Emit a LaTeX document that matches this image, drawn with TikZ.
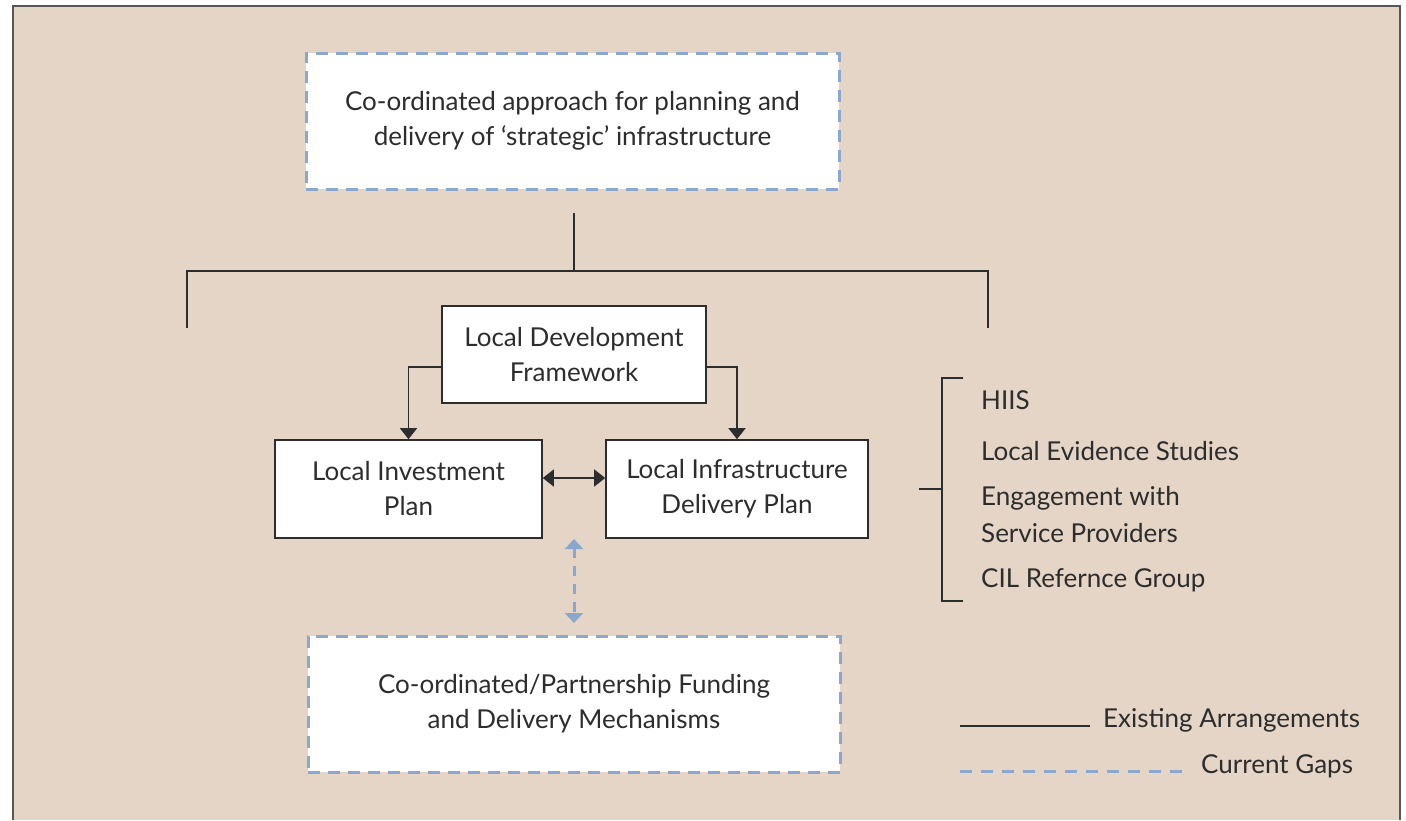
\documentclass[tikz,border=0pt]{standalone}
\usepackage{fontspec}
\setmainfont{Lato}
\usetikzlibrary{arrows.meta}

\definecolor{bgbeige}{RGB}{229,213,198}
\definecolor{gapblue}{RGB}{139,167,205}
\definecolor{inkgrey}{RGB}{45,45,45}

\tikzset{
  planbox/.style={draw=inkgrey,fill=white,line width=1.6pt,align=center,inner sep=0pt},
  gapbox/.style={draw=gapblue,fill=white,line width=3pt,dash pattern=on 12pt off 8pt,align=center,inner sep=0pt},
  link/.style={draw=inkgrey,line width=1.6pt},
  linkarrow/.style={link,-{Triangle[width=17pt,length=11pt]}},
  linkboth/.style={link,{Triangle[width=17pt,length=11pt]}-{Triangle[width=17pt,length=11pt]}},
  gaparrow/.style={draw=gapblue,line width=3pt,dash pattern=on 10pt off 8pt,{Triangle[width=18pt,length=10pt]}-{Triangle[width=18pt,length=10pt]}},
  itemtext/.style={anchor=base west,inner sep=0pt}
}

\begin{document}
\begin{tikzpicture}[x=1pt,y=-1pt,font=\fontsize{26}{35}\selectfont,text=inkgrey]
	\useasboundingbox (0,0) rectangle (1406,820);

	%panel
	\fill[bgbeige] (13,6) rectangle (1400,820);
	\draw[line width=2pt,draw=inkgrey!80] (13,820) -- (13,6) -- (1400,6) -- (1400,820); %frame

	%boxes
	\node[gapbox,minimum width=533pt,minimum height=136pt] (strategic) at (572.5,121)
	  {Co-ordinated approach for planning and\\delivery of ‘strategic’ infrastructure};
	\node[planbox,minimum width=264pt,minimum height=97pt] (ldf) at (574,354.5)
	  {Local Development\\Framework};
	\node[planbox,minimum width=267pt,minimum height=98pt] (lip) at (408.5,489)
	  {Local Investment\\Plan};
	\node[planbox,minimum width=262pt,minimum height=98pt] (lidp) at (737,489)
	  {Local Infrastructure\\Delivery Plan};
	\node[gapbox,minimum width=532pt,minimum height=136pt] (funding) at (574,704)
	  {Co-ordinated/Partnership Funding\\and Delivery Mechanisms};

	%tree under the strategic box
	\coordinate (stem top) at (574,213);
	\coordinate (stem foot) at (574,271);
	\coordinate (branch left) at (187,328);
	\coordinate (branch right) at (988,328);
	\draw[link] (stem top) -- (stem foot);
	\draw[link] (branch left) |- (stem foot) -| (branch right);

	%arrows
	\draw[linkarrow] ([yshift=-12.5pt]ldf.west) -| (lip.north); %to LIP
	\draw[linkarrow] ([yshift=-12.5pt]ldf.east) -| (lidp.north); %to LIDP
	\draw[linkboth] ([yshift=11pt]lip.east) -- ([yshift=11pt]lidp.west); %LIP and LIDP

	%gap arrow
	\coordinate (gap top) at (574,539);
	\coordinate (gap foot) at (574,623);
	\draw[gaparrow] (gap top) -- (gap foot);

	%evidence list
	\node[itemtext] (hiis) at (981,409) {HIIS};
	\node[itemtext] (evidence) at (981,460) {Local Evidence Studies};
	\node[itemtext] (engage) at (981,505) {Engagement with};
	\node[itemtext] (providers) at (981,542) {Service Providers};
	\node[itemtext] (cil) at (981,587) {CIL Refernce Group};

	%bracket
	\coordinate (brace top) at (963,378);
	\coordinate (brace foot) at (963,601);
	\coordinate (brace stub) at (919,489);
	\draw[link] (brace top) -- (942,378) -- (942,601) -- (brace foot);
	\draw[link] (brace stub) -- (942,489);

	%legend
	\node[itemtext] (existing) at (1103,727) {Existing Arrangements};
	\node[itemtext] (gaps) at (1201,773) {Current Gaps};
	\coordinate (key solid) at (960,726);
	\coordinate (key solid end) at (1090,726);
	\coordinate (key dashed) at (960,771);
	\coordinate (key dashed end) at (1187,771);
	\draw[link] (key solid) -- (key solid end);
	\draw[draw=gapblue,line width=3pt,dash pattern=on 12pt off 9pt] (key dashed) -- (key dashed end);
\end{tikzpicture}
\end{document}
